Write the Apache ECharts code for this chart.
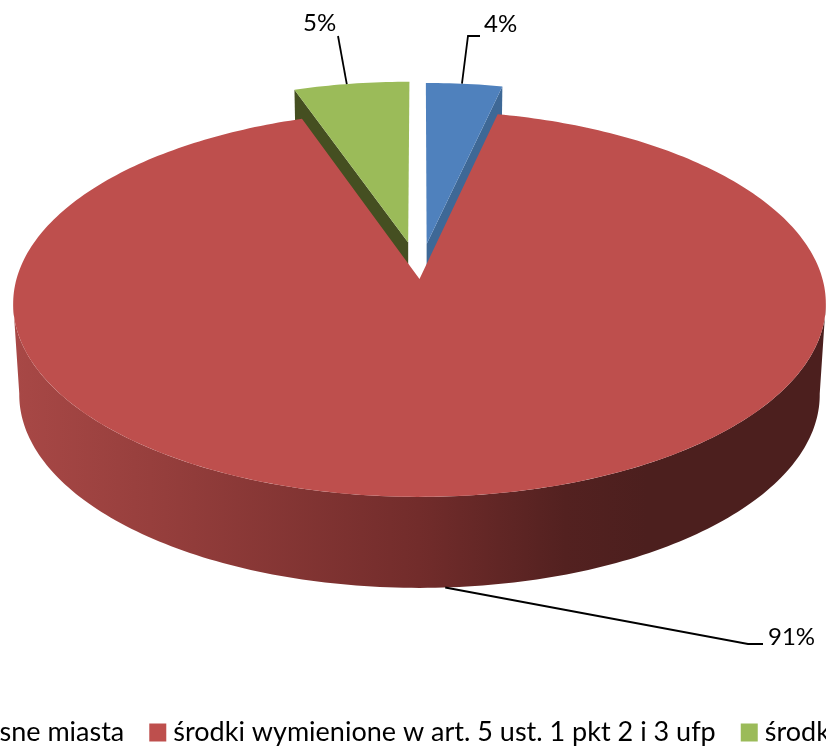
<!DOCTYPE html>
<html>
<head>
    <meta charset="utf-8">
    <title>Struktura finansowania</title>
    <script src="https://cdn.jsdelivr.net/npm/echarts@6/dist/echarts.min.js"></script>
    <style>
        html, body { margin: 0; background: #fff; overflow: hidden; }
        #chart { width: 826px; height: 746px; }
    </style>
</head>
<body>
    <div id="chart"></div>
    <script>
        // Data
        const categories = ['środki własne miasta', 'środki wymienione w art. 5 ust. 1 pkt 2 i 3 ufp', 'środki pozostałe'];
        const values = [3.5, 91.2, 5.3];
        const topColors = ['#4F81BD', '#BE4F4D', '#9BBB59'];
        const cutColors = ['#3E6896', '#7A2E2C', '#454F21'];
        const explode = [0.19, 0, 0.2];

        // Layout of the tilted disc (perspective projection of a unit circle)
        const APEX_X = 419.5, APEX_Y = 279, K = 0.128, SCALE_X = 403, SCALE_Y = 190;
        const DEPTH = 91, BOTTOM_SHRINK = 0.985, EXPLODE_SIDE = 0.87;

        // label elbow, text position and where on the rim the leader starts, per slice
        const elbows = [[468, 36, 480, 36], [748, 644, 763, 644], [338, 36, 338, 36]];
        const labelPos = [[484, 24], [768, 637], [303, 23]];
        const anchorAt = [0.47, 0.5, 0.46];

        const total = values.reduce((a, b) => a + b, 0);

        function project(u, v, lower) {
            const w = 1 + K * v;
            if (lower) {
                return [APEX_X + BOTTOM_SHRINK * SCALE_X * u / w, APEX_Y + DEPTH - SCALE_Y * v / w];
            }
            return [APEX_X + SCALE_X * u / w, APEX_Y - SCALE_Y * v / w];
        }

        // angles are degrees clockwise from straight up
        function sliceAngles(idx) {
            let before = 0;
            for (let i = 0; i < idx; i++) before += values[i];
            return [before / total * 360, (before + values[idx]) / total * 360];
        }

        function offsetOf(idx) {
            const a = sliceAngles(idx);
            const mid = (a[0] + a[1]) / 2 * Math.PI / 180;
            return [EXPLODE_SIDE * explode[idx] * Math.sin(mid), explode[idx] * Math.cos(mid)];
        }

        function rimPoint(deg, off, lower) {
            const r = deg * Math.PI / 180;
            return project(off[0] + Math.sin(r), off[1] + Math.cos(r), lower);
        }

        function arc(from, to, off, lower) {
            const pts = [];
            const steps = Math.max(2, Math.ceil(Math.abs(to - from)));
            for (let i = 0; i <= steps; i++) {
                pts.push(rimPoint(from + (to - from) * i / steps, off, lower));
            }
            return pts;
        }

        function renderSlice(params, api) {
            const idx = params.seriesIndex;
            const a = sliceAngles(idx);
            const off = offsetOf(idx);
            const apex = project(off[0], off[1], false);
            const apexLow = project(off[0], off[1], true);
            const children = [];

            if (idx === 1) {
                // outer wall of the big slice, only the part facing the viewer
                const from = 97, to = 263;
                const wall = arc(from, to, off, false).concat(arc(to, from, off, true));
                children.push({
                    type: 'polygon',
                    shape: { points: wall },
                    style: {
                        fill: new echarts.graphic.LinearGradient(12, 0, 826, 0, [
                            { offset: 0, color: '#A84846' },
                            { offset: 0.17, color: '#973F3D' },
                            { offset: 0.5, color: '#722C2B' },
                            { offset: 0.68, color: '#532120' },
                            { offset: 0.78, color: '#4C1F1E' },
                            { offset: 1, color: '#4C1F1E' }
                        ], true)
                    }
                });
            } else {
                // cut face of the pulled out slices
                const edge = idx === 0 ? a[1] : a[0];
                const rimTop = rimPoint(edge, off, false);
                const rimLow = rimPoint(edge, off, true);
                children.push({
                    type: 'polygon',
                    shape: { points: [apex, rimTop, rimLow, apexLow] },
                    style: { fill: cutColors[idx] }
                });
            }

            children.push({
                type: 'polygon',
                shape: { points: [apex].concat(arc(a[0], a[1], off, false)) },
                style: { fill: topColors[idx] }
            });

            // leader line and percent label
            const anchor = rimPoint(a[0] + (a[1] - a[0]) * anchorAt[idx], off, idx === 1);
            const e = elbows[idx];
            children.push({
                type: 'polyline',
                shape: { points: [anchor, [e[0], e[1]], [e[2], e[3]]] },
                style: { stroke: '#000', lineWidth: 1.8, fill: null }
            });
            children.push({
                type: 'text',
                style: {
                    text: Math.round(api.value(0) / total * 100) + '%',
                    x: labelPos[idx][0],
                    y: labelPos[idx][1],
                    verticalAlign: 'middle',
                    fill: '#000',
                    font: '24px Lato'
                }
            });
            return { type: 'group', children: children };
        }

        const chart = echarts.init(document.getElementById('chart'), null, { renderer: 'canvas' });
        chart.setOption({
            animation: false,
            backgroundColor: '#fff',
            legend: {
                data: categories,
                left: -146,
                top: 719,
                width: 2000,
                padding: 0,
                itemGap: 25,
                itemWidth: 17,
                itemHeight: 18,
                icon: 'rect',
                textStyle: { color: '#000', fontFamily: 'Lato', fontSize: 27, padding: [0, 0, 0, 2] }
            },
            series: categories.map((name, i) => ({
                type: 'custom',
                name: name,
                coordinateSystem: 'none',
                silent: true,
                z: i === 1 ? 3 : 2,
                itemStyle: { color: topColors[i] },
                renderItem: renderSlice,
                data: [[values[i]]]
            }))
        });
    </script>
</body>
</html>
